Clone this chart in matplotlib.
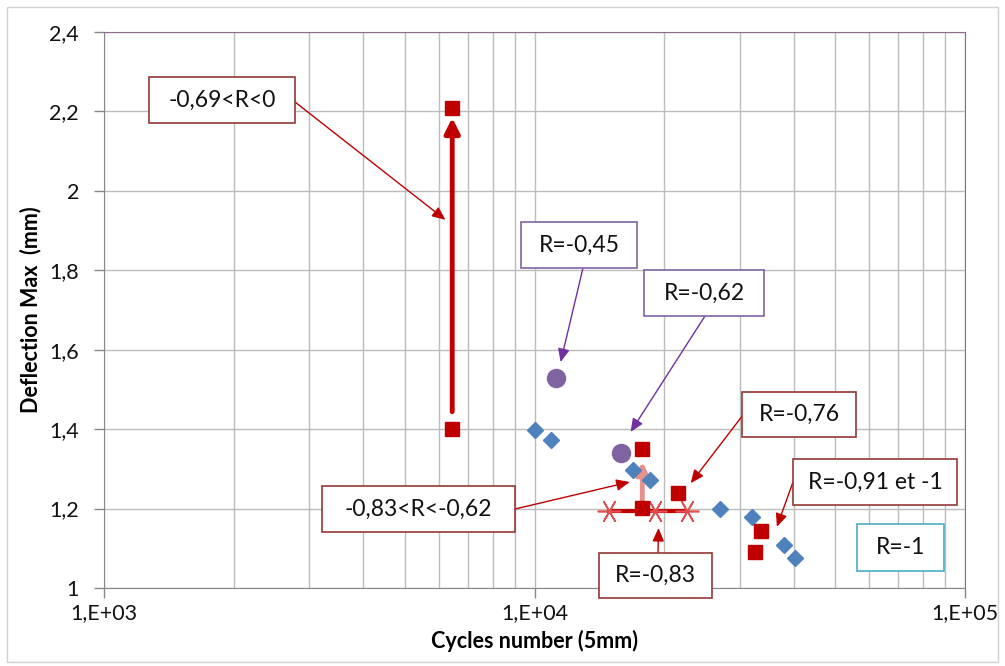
import matplotlib
matplotlib.use("Agg")
import matplotlib.pyplot as plt
from matplotlib.patches import Rectangle
import numpy as np

plt.rcParams['font.family'] = ['Lato', 'DejaVu Sans']

# ---- data ----
blue_x = [10000, 10950, 16960, 18530, 26980, 32060, 38030, 40290]
blue_y = [1.398, 1.373, 1.297, 1.272, 1.198, 1.178, 1.109, 1.076]

red_x = [6440, 6440, 17800, 17800, 21500, 33550, 32500]
red_y = [2.209, 1.400, 1.350, 1.201, 1.240, 1.144, 1.091]

purple_x = [11190, 15910]
purple_y = [1.530, 1.341]

# range bar for R=-0,83 group
bar_x = [14860, 19100, 22550]
bar_y = [1.195, 1.195, 1.195]

# vertical evolution arrows (start, end)
big_arrow_x = [6440, 6440]
big_arrow_y = [1.444, 2.184]
small_arrow_x = [17800, 17800]
small_arrow_y = [1.20, 1.318]

x_ticks = [1e3, 1e4, 1e5]
x_tick_labels = ["1,E+03", "1,E+04", "1,E+05"]
y_ticks = [1.0, 1.2, 1.4, 1.6, 1.8, 2.0, 2.2, 2.4]
y_tick_labels = ["1", "1,2", "1,4", "1,6", "1,8", "2", "2,2", "2,4"]

# annotations: label, box (px: x0, y0, x1, y1), arrow start px, arrow tip (data), colours
annotations = [
    ("-0,69<R<0", (149, 77, 295, 123), (295, 102), (6210, 1.927), '#953735', '#c00000'),
    ("R=-0,45", (521, 222, 637, 268), (583, 268), (11500, 1.569), '#8064a2', '#7030a0'),
    ("R=-0,62", (644, 270, 764, 316), (705, 316), (16720, 1.393), '#8064a2', '#7030a0'),
    ("R=-0,76", (742, 392, 856, 437), (743, 415), (23060, 1.264), '#953735', '#c00000'),
    ("R=-0,91 et -1", (793, 459, 957, 505), (793, 482), (36560, 1.154), '#953735', '#c00000'),
    ("R=-1", (857, 524, 944, 571), None, None, '#4bacc6', None),
    ("-0,83<R<-0,62", (322, 486, 515, 532), (515, 509), (16640, 1.267), '#953735', '#c00000'),
    ("R=-0,83", (599, 553, 712, 598), (658, 553), (19410, 1.151), '#953735', '#c00000'),
]

W, H = 1005, 666
L, R, T, B = 104, 965, 32, 588

fig = plt.figure(figsize=(W / 100, H / 100), dpi=100)
fig.patches.append(Rectangle((7 / W, 1 - 662 / H), (998 - 7) / W, (662 - 7) / H,
                             transform=fig.transFigure, fill=False,
                             edgecolor='#d0d0d0', linewidth=1))
ax = fig.add_axes([L / W, 1 - B / H, (R - L) / W, (B - T) / H])
ax.set_xscale('log')
ax.set_xlim(1e3, 1e5)
ax.set_ylim(1.0, 2.4)

ax.set_xticks(x_ticks)
ax.set_xticklabels(x_tick_labels)
ax.set_yticks(y_ticks)
ax.set_yticklabels(y_tick_labels)
ax.tick_params(axis='both', labelsize=15.5, labelcolor='#111111', length=7, width=1,
               direction='out', color='#888888')
ax.tick_params(axis='y', pad=11)
ax.tick_params(axis='x', pad=4)
ax.tick_params(axis='x', which='minor', length=0)
ax.xaxis.set_minor_formatter(matplotlib.ticker.NullFormatter())
ax.grid(True, which='major', color='#bcbcbc', linewidth=1)
ax.grid(True, which='minor', axis='x', color='#bcbcbc', linewidth=1)
ax.set_axisbelow(True)

for s in ['left', 'bottom']:
    ax.spines[s].set_color('#888888')
for s in ['top', 'right']:
    ax.spines[s].set_color('#8e6a8e')

ax.set_xlabel("Cycles number (5mm)", fontsize=15.5, fontweight='bold', labelpad=5)
ax.set_ylabel("Deflection Max  (mm)", fontsize=15.5, fontweight='bold', labelpad=6)

# range bar
ax.plot(bar_x, bar_y, color='#c00000', linewidth=3, zorder=3)
ax.plot(bar_x, bar_y, linestyle='none', marker=(6, 2, 90), markersize=17,
        markeredgecolor='#e05050', markeredgewidth=1.2, zorder=4)

# arrows
ax.annotate('', xy=(big_arrow_x[1], big_arrow_y[1]), xytext=(big_arrow_x[0], big_arrow_y[0]),
            arrowprops=dict(arrowstyle='-|>,head_length=0.9,head_width=0.45',
                            color='#c00000', lw=3.5, shrinkA=0, shrinkB=0), zorder=3)
ax.annotate('', xy=(small_arrow_x[1], small_arrow_y[1]), xytext=(small_arrow_x[0], small_arrow_y[0]),
            arrowprops=dict(arrowstyle='-|>,head_length=0.7,head_width=0.35',
                            color='#e8908a', lw=3.5, shrinkA=0, shrinkB=0), zorder=3)

ax.plot(blue_x, blue_y, linestyle='none', marker='D', markersize=8,
        color='#4f81bd', zorder=5)
ax.plot(red_x, red_y, linestyle='none', marker='s', markersize=10,
        color='#c00000', zorder=5)
ax.plot(purple_x, purple_y, linestyle='none', marker='o', markersize=13,
        color='#8064a2', zorder=5)


def fx(px):
    return (px - L) / (R - L)


def fy(py):
    return (B - py) / (B - T)


for label, box, start, tip, ec, ac in annotations:
    x0, y0, x1, y1 = box
    ax.add_patch(Rectangle((fx(x0), fy(y1)), fx(x1) - fx(x0), fy(y0) - fy(y1),
                           transform=ax.transAxes, facecolor='white', edgecolor=ec,
                           linewidth=1.2, zorder=6, clip_on=False))
    ax.text((fx(x0) + fx(x1)) / 2, (fy(y0) + fy(y1)) / 2, label, transform=ax.transAxes,
            ha='center', va='center', fontsize=16.5, color='#111111', zorder=7)
    if start is not None:
        ax.annotate('', xy=tip, xycoords='data',
                    xytext=(fx(start[0]), fy(start[1])), textcoords='axes fraction',
                    arrowprops=dict(arrowstyle='-|>,head_length=0.8,head_width=0.35',
                                    color=ac, lw=1, shrinkA=0, shrinkB=0),
                    zorder=5)

fig.savefig('out.png', dpi=100)
